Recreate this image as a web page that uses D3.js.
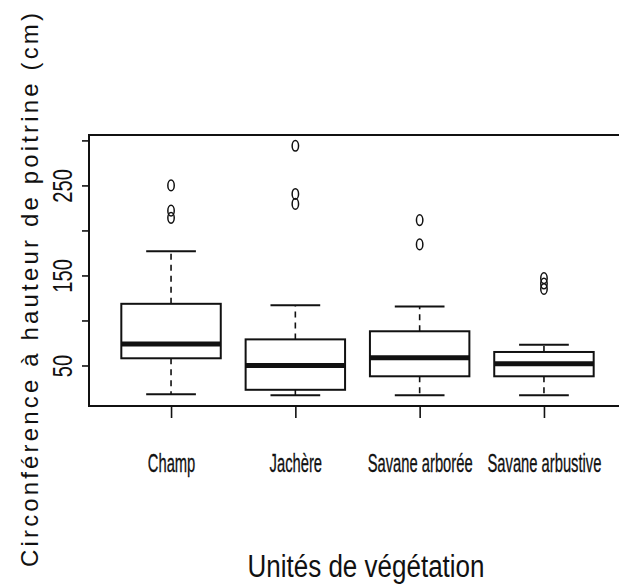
<!DOCTYPE html>
<html>
<head>
<meta charset="utf-8">
<script src="https://cdn.jsdelivr.net/npm/d3@7"></script>
<style>
  body { margin: 0; background: #fff; }
  text { font-family: "Liberation Sans", Arial, sans-serif; fill: #111; }
</style>
</head>
<body>
<svg id="chart"></svg>
<script>
// Circonférence à hauteur de poitrine par unité de végétation (boxplot)
const categories = ["Champ", "Jachère", "Savane arborée", "Savane arbustive"];
const whiskerLow  = [18, 17, 17, 17];
const quartile1   = [58, 23, 38, 38];
const medians     = [74, 50, 58.5, 52];
const quartile3   = [118.5, 79, 88, 65];
const whiskerHigh = [177, 117, 115.5, 73];
const outliers    = [[250, 222, 214], [294, 240.5, 229.5], [211.5, 184.5], [147, 141, 135]];
const yTicks      = [50, 100, 150, 200, 250, 300];
const yTickLabels = [50, 150, 250];
const xTitle = "Unités de végétation";
const yTitle = "Circonférence à hauteur de poitrine (cm)";

const W = 619, H = 586;
const plot = { left: 89, right: 626, top: 135, bottom: 406 };
const ink = "#111";

const svg = d3.select("#chart").attr("width", W).attr("height", H);
svg.append("rect").attr("width", W).attr("height", H).attr("fill", "#fff");

const x = d3.scaleLinear().domain([0.34, 4.66]).range([plot.left, plot.right]);
const y = d3.scaleLinear().domain([5, 306]).range([plot.bottom, plot.top]);

const boxHalf = 0.4, capHalf = 0.2;

// Plot frame
svg.append("rect")
  .attr("x", plot.left).attr("y", plot.top)
  .attr("width", plot.right - plot.left).attr("height", plot.bottom - plot.top)
  .attr("fill", "none").attr("stroke", ink).attr("stroke-width", 2);

// Y axis
const yAxis = svg.append("g")
  .attr("transform", `translate(${plot.left},0)`)
  .call(d3.axisLeft(y).tickValues(yTicks).tickSize(7)
    .tickFormat(d => yTickLabels.includes(d) ? String(d) : ""));
yAxis.select(".domain").remove();
yAxis.selectAll(".tick line").attr("stroke", ink).attr("stroke-width", 1.6);
yAxis.selectAll(".tick text")
  .attr("x", null).attr("dy", null)
  .attr("text-anchor", "middle")
  .attr("font-size", 28)
  .attr("transform", "translate(-17,0) rotate(-90) scale(0.72,1)")
  .style("font-family", '"Liberation Sans", Arial, sans-serif')
  .attr("fill", ink);

// X axis
const xAxis = svg.append("g")
  .attr("transform", `translate(0,${plot.bottom})`)
  .call(d3.axisBottom(x).tickValues([1, 2, 3, 4]).tickSize(12)
    .tickFormat(i => categories[i - 1]));
xAxis.select(".domain").remove();
xAxis.selectAll(".tick line").attr("stroke", ink).attr("stroke-width", 1.6);
xAxis.selectAll(".tick text")
  .attr("y", 66).attr("dy", null)
  .attr("text-anchor", "middle")
  .attr("font-size", 25)
  .attr("transform", "scale(0.59,1)")
  .style("font-family", '"Liberation Sans", Arial, sans-serif')
  .attr("fill", ink)
  .attr("stroke", ink).attr("stroke-width", 0.3);

// Boxes
const groups = svg.append("g").selectAll("g")
  .data(categories.map((c, i) => ({
    pos: i + 1, lo: whiskerLow[i], q1: quartile1[i], med: medians[i],
    q3: quartile3[i], hi: whiskerHigh[i], out: outliers[i]
  })))
  .join("g");

// whiskers (dashed)
groups.append("line")
  .attr("x1", d => x(d.pos)).attr("x2", d => x(d.pos))
  .attr("y1", d => y(d.q3)).attr("y2", d => y(d.hi))
  .attr("stroke", ink).attr("stroke-width", 1.6).attr("stroke-dasharray", "6,5");
groups.append("line")
  .attr("x1", d => x(d.pos)).attr("x2", d => x(d.pos))
  .attr("y1", d => y(d.q1)).attr("y2", d => y(d.lo))
  .attr("stroke", ink).attr("stroke-width", 1.6).attr("stroke-dasharray", "6,5");

// staples
groups.append("line")
  .attr("x1", d => x(d.pos - capHalf)).attr("x2", d => x(d.pos + capHalf))
  .attr("y1", d => y(d.hi)).attr("y2", d => y(d.hi))
  .attr("stroke", ink).attr("stroke-width", 2);
groups.append("line")
  .attr("x1", d => x(d.pos - capHalf)).attr("x2", d => x(d.pos + capHalf))
  .attr("y1", d => y(d.lo)).attr("y2", d => y(d.lo))
  .attr("stroke", ink).attr("stroke-width", 2);

// box
groups.append("rect")
  .attr("x", d => x(d.pos - boxHalf))
  .attr("width", d => x(d.pos + boxHalf) - x(d.pos - boxHalf))
  .attr("y", d => y(d.q3))
  .attr("height", d => y(d.q1) - y(d.q3))
  .attr("fill", "#fff").attr("stroke", ink).attr("stroke-width", 2);

// median
groups.append("line")
  .attr("x1", d => x(d.pos - boxHalf)).attr("x2", d => x(d.pos + boxHalf))
  .attr("y1", d => y(d.med)).attr("y2", d => y(d.med))
  .attr("stroke", ink).attr("stroke-width", 5);

// outliers
groups.selectAll("ellipse")
  .data(d => d.out.map(v => ({ pos: d.pos, v })))
  .join("ellipse")
  .attr("cx", d => x(d.pos)).attr("cy", d => y(d.v))
  .attr("rx", 3.2).attr("ry", 5.3)
  .attr("fill", "none").attr("stroke", ink).attr("stroke-width", 1.5);

// Axis titles
svg.append("text")
  .attr("x", 366).attr("y", 577)
  .attr("text-anchor", "middle")
  .attr("font-size", 31)
  .attr("textLength", 237).attr("lengthAdjust", "spacingAndGlyphs")
  .text(xTitle);

svg.append("text")
  .attr("transform", "translate(38,290) rotate(-90)")
  .attr("text-anchor", "middle")
  .attr("font-size", 24)
  .attr("textLength", 554).attr("lengthAdjust", "spacing")
  .text(yTitle);
</script>
</body>
</html>
